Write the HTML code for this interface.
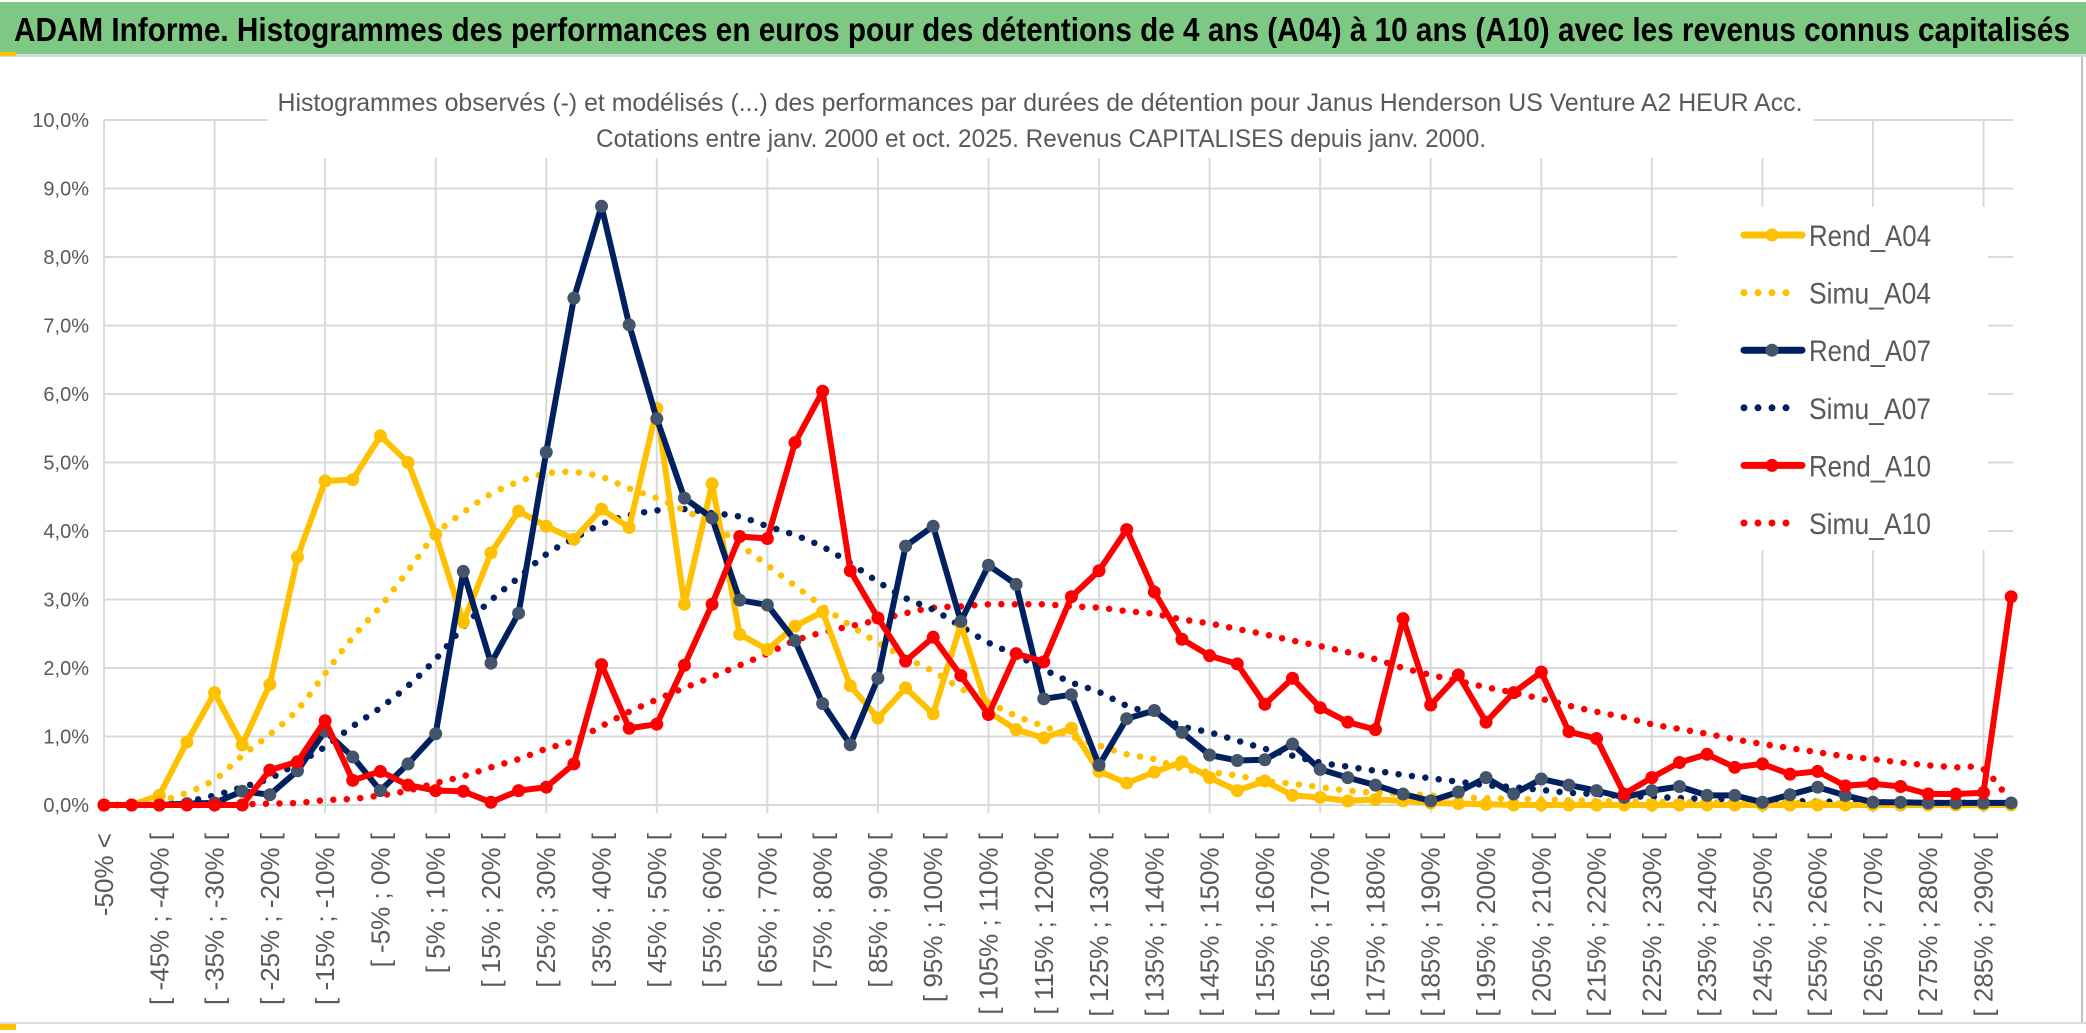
<!DOCTYPE html>
<html><head><meta charset="utf-8">
<style>
html,body{margin:0;padding:0;background:#fff;}
svg{display:block;font-family:"Liberation Sans",sans-serif;}
</style></head>
<body>
<svg id="chart" width="2086" height="1033" viewBox="0 0 2086 1033" xmlns="http://www.w3.org/2000/svg">
  <rect x="0" y="0" width="2086" height="1033" fill="#fff"/>
  <rect x="0" y="2" width="2086" height="52" fill="#7DC983"/>
  <rect x="0" y="54" width="2086" height="3" fill="#d9d9d9"/>
  <rect x="0" y="52" width="16" height="4" fill="#FFC000"/>
  <text x="14" y="41" font-size="33" font-weight="bold" fill="#000" textLength="2056" lengthAdjust="spacingAndGlyphs">ADAM Informe. Histogrammes des performances en euros pour des détentions de 4 ans (A04) à 10 ans (A10) avec les revenus connus capitalisés</text>
  <line x1="2082" y1="57" x2="2082" y2="1022" stroke="#bfbfbf" stroke-width="2"/>
  <line x1="0" y1="1023" x2="2086" y2="1023" stroke="#d9d9d9" stroke-width="2"/>
  <rect x="0" y="1024" width="16" height="6" fill="#FFC000"/>
  <g id="grid"></g>
  <g id="yaxis"></g>
  <g id="xaxis"></g>
  <g id="series"></g>
  <g id="titlebox">
    <rect x="268" y="80" width="1545" height="78" fill="#fff"/>
    <text x="1040" y="111" font-size="25" fill="#595959" text-anchor="middle" textLength="1525" lengthAdjust="spacingAndGlyphs">Histogrammes observés (-) et modélisés (...) des performances par durées de détention pour Janus Henderson US Venture A2 HEUR Acc.</text>
    <text x="1041" y="147" font-size="25" fill="#595959" text-anchor="middle" textLength="890" lengthAdjust="spacingAndGlyphs">Cotations entre janv. 2000 et oct. 2025. Revenus CAPITALISES depuis janv. 2000.</text>
  </g>
  <g id="legend"></g>
</svg>
<script>
const categories = [];
categories.push('-50% <');
for (let k = 1; k < 69; k++) { const a = -55 + 5 * k; categories.push('[ ' + a + '% ; ' + (a + 5) + '% ['); }
categories.push('> 290%');
const yTicks = [0,1,2,3,4,5,6,7,8,9,10];
const tickLabels = ['0,0%','1,0%','2,0%','3,0%','4,0%','5,0%','6,0%','7,0%','8,0%','9,0%','10,0%'];
const rendA04 = [0,0,0.14,0.92,1.64,0.88,1.76,3.62,4.73,4.75,5.39,5.0,3.95,2.67,3.68,4.29,4.07,3.88,4.32,4.05,5.79,2.93,4.69,2.49,2.27,2.61,2.82,1.74,1.27,1.71,1.33,2.64,1.36,1.1,0.98,1.12,0.49,0.32,0.48,0.63,0.4,0.21,0.35,0.14,0.11,0.06,0.08,0.06,0.03,0.02,0.01,0,0,0,0,0,0,0,0,0,0,0,0,0,0,0,0,0,0,0];
const simuA04 = [0,0.02,0.06,0.18,0.37,0.72,1.03,1.39,1.92,2.45,2.9,3.42,3.95,4.27,4.54,4.72,4.84,4.86,4.79,4.62,4.48,4.3,4.1,3.8,3.5,3.2,2.9,2.62,2.37,2.15,1.95,1.7,1.5,1.3,1.15,1.0,0.87,0.74,0.67,0.53,0.48,0.43,0.35,0.31,0.26,0.21,0.18,0.16,0.14,0.11,0.1,0.09,0.08,0.07,0.06,0.05,0.05,0.04,0.04,0.03,0.03,0.03,0.02,0.02];
const rendA07 = [0,0,0,0.02,0.03,0.2,0.15,0.5,1.08,0.7,0.21,0.6,1.04,3.41,2.07,2.8,5.15,7.4,8.74,7.01,5.64,4.48,4.19,2.99,2.92,2.4,1.48,0.88,1.85,3.78,4.07,2.68,3.5,3.22,1.55,1.61,0.58,1.26,1.38,1.06,0.73,0.65,0.66,0.89,0.52,0.4,0.29,0.16,0.06,0.19,0.4,0.16,0.38,0.29,0.21,0.11,0.21,0.27,0.14,0.14,0.04,0.15,0.26,0.14,0.04,0.04,0.03,0.03,0.03,0.03];
const simuA07 = [0,0,0.01,0.05,0.14,0.26,0.39,0.61,0.85,1.15,1.42,1.74,2.13,2.6,2.99,3.32,3.66,3.89,4.1,4.23,4.3,4.32,4.26,4.21,4.07,3.94,3.77,3.53,3.26,3.02,2.85,2.61,2.37,2.19,1.98,1.79,1.65,1.45,1.33,1.15,1.06,0.94,0.82,0.72,0.62,0.56,0.5,0.44,0.39,0.34,0.29,0.26,0.22,0.18,0.16,0.13,0.12,0.1,0.09,0.08,0.07,0.06,0.05,0.05,0.04,0.04,0.03,0.03,0.03];
const rendA10 = [0,0,0,0,0,0,0.51,0.63,1.23,0.36,0.49,0.29,0.21,0.2,0.04,0.21,0.26,0.6,2.05,1.12,1.18,2.04,2.93,3.92,3.89,5.29,6.04,3.42,2.73,2.1,2.45,1.89,1.32,2.21,2.09,3.04,3.42,4.02,3.11,2.42,2.18,2.06,1.47,1.85,1.42,1.21,1.1,2.72,1.46,1.9,1.21,1.64,1.94,1.07,0.97,0.16,0.4,0.62,0.74,0.55,0.6,0.45,0.49,0.28,0.31,0.27,0.16,0.16,0.18,3.04];
const simuA10 = [0,0,0,0,0,0.01,0.02,0.03,0.07,0.09,0.14,0.21,0.32,0.42,0.55,0.67,0.82,0.94,1.15,1.36,1.54,1.71,1.87,2.04,2.21,2.4,2.52,2.61,2.7,2.8,2.88,2.9,2.93,2.93,2.93,2.9,2.88,2.83,2.79,2.71,2.65,2.57,2.49,2.4,2.32,2.23,2.13,2.0,1.9,1.81,1.72,1.64,1.55,1.45,1.36,1.28,1.18,1.11,1.04,0.96,0.89,0.83,0.77,0.71,0.67,0.62,0.58,0.55,0.52,0.1];

const NS = 'http://www.w3.org/2000/svg';
const X0 = 104, STEP = 27.64, Y0 = 805, PER = 68.5;
function xs(i){ return X0 + i * STEP; }
function ys(v){ return Y0 - v * PER; }
function mk(tag, parent){ const e = document.createElementNS(NS, tag); parent.appendChild(e); return e; }

const grid = document.getElementById('grid');
yTicks.forEach((t) => {
  const l = mk('line', grid);
  
  
  l.setAttribute('x1', xs(0)); l.setAttribute('x2', xs(69) + 2);
  l.setAttribute('y1', ys(t)); l.setAttribute('y2', ys(t));
  l.setAttribute('stroke', '#d9d9d9'); l.setAttribute('stroke-width', '2');
});
for (let i = 0; i < categories.length; i += 4) {
  const l = mk('line', grid);
  
  
  l.setAttribute('x1', xs(i)); l.setAttribute('x2', xs(i));
  l.setAttribute('y1', ys(10)); l.setAttribute('y2', ys(0) + 8);
  l.setAttribute('stroke', '#d9d9d9'); l.setAttribute('stroke-width', '2');
}
const yaxis = document.getElementById('yaxis');
yTicks.forEach((t, i) => {
  const tx = mk('text', yaxis);
  
  
  tx.setAttribute('x', 89); tx.setAttribute('y', ys(t) + 7);
  tx.setAttribute('text-anchor', 'end'); tx.setAttribute('font-size', '20');
  tx.setAttribute('fill', '#595959');
  tx.textContent = tickLabels[i];
});
const xaxis = document.getElementById('xaxis');
categories.forEach((c, i) => {
  if (i % 2 !== 0) return;
  const tx = mk('text', xaxis);
  
  
  const x = xs(i) + 9, y = 833;
  tx.setAttribute('x', x); tx.setAttribute('y', y);
  tx.setAttribute('transform', 'rotate(-90 ' + x + ' ' + y + ')');
  tx.setAttribute('text-anchor', 'end'); tx.setAttribute('font-size', '26');
  tx.setAttribute('fill', '#595959');
  tx.textContent = c;
});

const series = document.getElementById('series');
function path(vals){ return vals.map((v, i) => (i ? 'L' : 'M') + xs(i).toFixed(1) + ' ' + ys(v).toFixed(1)).join(' '); }
function smoothPath(vals){
  let d = 'M' + xs(0) + ' ' + ys(vals[0]);
  for (let i = 0; i < vals.length - 1; i++) {
    const p0 = vals[Math.max(i - 1, 0)], p1 = vals[i], p2 = vals[i + 1], p3 = vals[Math.min(i + 2, vals.length - 1)];
    const c1 = ys(p1 + (p2 - p0) / 6), c2 = ys(p2 - (p3 - p1) / 6);
    d += ' C' + (xs(i) + STEP / 3).toFixed(1) + ' ' + c1.toFixed(1) + ' ' + (xs(i + 1) - STEP / 3).toFixed(1) + ' ' + c2.toFixed(1) + ' ' + xs(i + 1).toFixed(1) + ' ' + ys(p2).toFixed(1);
  }
  return d;
}
function dotted(vals, color, name){
  const p = mk('path', series);
  
  
  p.setAttribute('d', smoothPath(vals));
  p.setAttribute('fill', 'none'); p.setAttribute('stroke', color);
  p.setAttribute('stroke-width', '6.5'); p.setAttribute('stroke-linecap', 'round');
  p.setAttribute('stroke-dasharray', '0 13.5');
}
function solid(vals, color, mcolor, name){
  const p = mk('path', series);
  
  
  p.setAttribute('d', path(vals));
  p.setAttribute('fill', 'none'); p.setAttribute('stroke', color);
  p.setAttribute('stroke-width', '6'); p.setAttribute('stroke-linejoin', 'round');
  vals.forEach((v, i) => {
    const c = mk('circle', series);
    
    
    c.setAttribute('cx', xs(i)); c.setAttribute('cy', ys(v)); c.setAttribute('r', '6.5');
    c.setAttribute('fill', mcolor);
  });
}
dotted(simuA10, '#FF0000', 'simu-a10-line');
dotted(simuA07, '#002060', 'simu-a07-line');
dotted(simuA04, '#FFC000', 'simu-a04-line');
solid(rendA04, '#FFC000', '#FFC000', 'rend-a04-line');
solid(rendA07, '#002060', '#44546A', 'rend-a07-line');
solid(rendA10, '#FF0000', '#FF0000', 'rend-a10-line');

const legend = document.getElementById('legend');
const lbg = mk('rect', legend);


lbg.setAttribute('x', 1677); lbg.setAttribute('y', 207); lbg.setAttribute('width', 311); lbg.setAttribute('height', 343); lbg.setAttribute('fill', '#fff');
const legendNames = ['Rend_A04','Simu_A04','Rend_A07','Simu_A07','Rend_A10','Simu_A10'];
const legendColors = ['#FFC000','#FFC000','#002060','#002060','#FF0000','#FF0000'];
const legendMarkers = ['#FFC000','','#44546A','','#FF0000',''];
legendNames.forEach((n, i) => {
  const y = 235 + i * 57.6;
  const g = mk('g', legend);
  
  
  if (i % 2 === 0) {
    const l = mk('line', g);
    
    
    l.setAttribute('x1', 1744); l.setAttribute('x2', 1802); l.setAttribute('y1', y); l.setAttribute('y2', y);
    l.setAttribute('stroke', legendColors[i]); l.setAttribute('stroke-width', '7'); l.setAttribute('stroke-linecap', 'round');
    const c = mk('circle', g);
    
    
    c.setAttribute('cx', 1772); c.setAttribute('cy', y); c.setAttribute('r', '6.5'); c.setAttribute('fill', legendMarkers[i]);
  } else {
    const l = mk('line', g);
    
    
    l.setAttribute('x1', 1744); l.setAttribute('x2', i === 5 ? 1800 : 1790); l.setAttribute('y1', y); l.setAttribute('y2', y);
    l.setAttribute('stroke', legendColors[i]); l.setAttribute('stroke-width', '7'); l.setAttribute('stroke-linecap', 'round');
    l.setAttribute('stroke-dasharray', '0 14');
  }
  const t = mk('text', g);
  
  
  t.setAttribute('x', 1809); t.setAttribute('y', y + 11);
  t.setAttribute('font-size', '30'); t.setAttribute('fill', '#595959');
  t.setAttribute('textLength', '122'); t.setAttribute('lengthAdjust', 'spacingAndGlyphs');
  t.textContent = n;
});
</script>
</body></html>
